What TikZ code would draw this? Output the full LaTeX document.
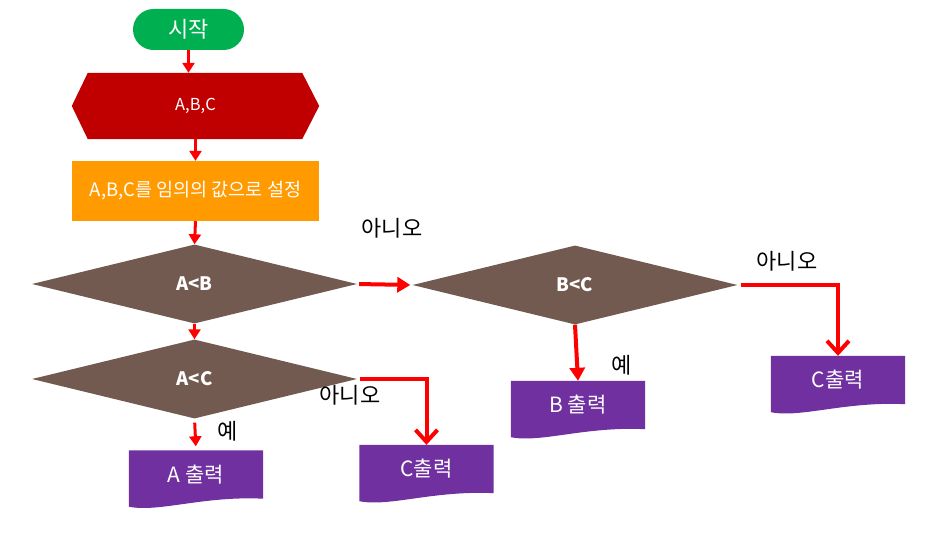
\documentclass[tikz,border=0pt]{standalone}
\usepackage{fontspec}
\setmainfont{Noto Sans CJK KR}
\usetikzlibrary{arrows.meta,shapes.geometric,calc,backgrounds}
\definecolor{startgreen}{HTML}{00B050}
\definecolor{hexred}{HTML}{C00000}
\definecolor{setorange}{HTML}{FF9A00}
\definecolor{decbrown}{HTML}{725A50}
\definecolor{outpurple}{HTML}{7030A0}
\tikzset{
  conn/.style={draw=red, line width=3pt, -{Triangle[length=10pt,width=12pt]}},
  elbow/.style={draw=red, line width=4pt, -{Straight Barb[length=12pt,width=22pt]}},
  decision/.style={diamond, fill=decbrown, minimum width=325pt, minimum height=79pt,
    aspect=4.1, inner sep=0pt, text=white, font=\bfseries\fontsize{18.5}{21}\selectfont},
  outbox/.style={minimum width=134pt, minimum height=48pt, inner sep=0pt, text=white,
    font=\fontsize{21}{24}\selectfont},
  lbl/.style={font=\fontsize{22}{25}\selectfont, text=black, inner sep=0pt}
}
\newcommand\docfill[1]{\fill[outpurple] (#1.north west) -- (#1.north east) -- (#1.south east)
  .. controls +(-60,-3) and +(30,6) .. ($(#1.south west)+(0,8)$) -- cycle;}
\begin{document}
\begin{tikzpicture}[x=1pt,y=-1pt]
\useasboundingbox (0,0) rectangle (940,540);
% nodes
\node[fill=startgreen, rounded corners=20.5pt, minimum width=111pt, minimum height=41pt,
  inner sep=0pt, text=white, font=\fontsize{22}{25}\selectfont] (start) at (188.5,29.5) {시작};
\node[minimum width=247pt, minimum height=66pt, inner sep=0pt, text=white,
  font=\fontsize{16.5}{19}\selectfont] (hex) at (195.5,106) {A,B,C};
\node[fill=setorange, minimum width=247pt, minimum height=60pt, inner sep=0pt, text=white,
  font=\fontsize{18.5}{21}\selectfont] (setv) at (195.5,191) {A,B,C를 임의의 값으로 설정};
\node[decision] (d1) at (194.5,284) {A<B};
\node[decision] (d2) at (575,285) {B<C};
\node[decision] (d3) at (194.5,379) {A<C};
\node[outbox] (ao) at (196,474.5) {A 출력};
\node[outbox] (co1) at (426.5,469) {C출력};
\node[outbox] (bo) at (578,405) {B 출력};
\node[outbox] (co2) at (838,380) {C출력};
% backgrounds
\begin{scope}[on background layer]
\fill[hexred] (hex.west) -- ($(hex.north west)+(16,0)$) -- ($(hex.north east)+(-17,0)$)
  -- (hex.east) -- ($(hex.south east)+(-17,0)$) -- ($(hex.south west)+(16,0)$) -- cycle;
\docfill{ao}
\docfill{co1}
\docfill{bo}
\docfill{co2}
\end{scope}
% connectors
\draw[conn] (start.south) -- (start.south |- hex.north);
\draw[conn] (hex.south) -- (setv.north);
\draw[conn] (setv.south) -- (d1.north);
\draw[conn, line width=4pt, -{Triangle[length=13pt,width=15pt]}, shorten <=2pt, shorten >=2pt] (d1.east) -- (d2.west);
\draw[conn] (d1.south) -- (d3.north);
\draw[conn, shorten <=4pt, shorten >=4pt] (d3.south) -- (ao.north);
\draw[elbow, shorten <=3pt] (d3.east) -| (co1.north);
\draw[conn, line width=4pt, -{Triangle[length=13pt,width=15pt]}] (d2.south) -- (bo.north);
\draw[elbow, shorten <=3pt] (d2.east) -| (co2.north);
% labels
\node[lbl] (n1) at (392,228) {아니오};
\node[lbl] (n2) at (350,395) {아니오};
\node[lbl] (n3) at (787,261) {아니오};
\node[lbl] (y1) at (228,431) {예};
\node[lbl] (y2) at (622,365) {예};
\end{tikzpicture}
\end{document}
